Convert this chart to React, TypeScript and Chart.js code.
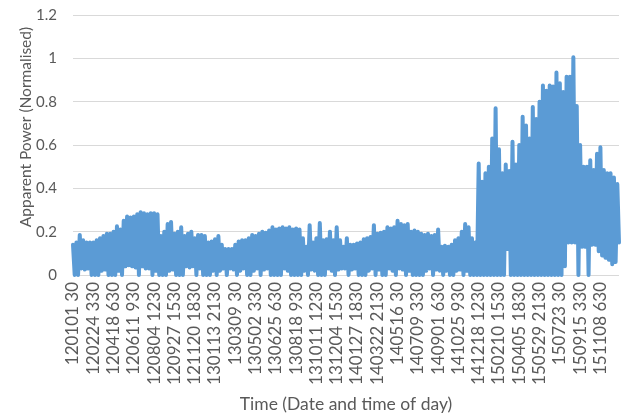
import React, { useEffect, useRef } from "react";
import { Chart, registerables } from "chart.js";

Chart.register(...registerables);

// Normalised apparent power, one daily high and one daily low reading per step.
const dailyPeaks = [
  0.14, 0.15, 0.185, 0.16, 0.15, 0.15, 0.15, 0.16, 0.17, 0.18,
  0.19, 0.19, 0.2, 0.225, 0.21, 0.25, 0.27, 0.265, 0.27, 0.28,
  0.29, 0.285, 0.28, 0.285, 0.285, 0.28, 0.18, 0.2, 0.235, 0.245,
  0.19, 0.2, 0.22, 0.18, 0.19, 0.2, 0.17, 0.185, 0.185, 0.18,
  0.15, 0.155, 0.165, 0.18, 0.14, 0.12, 0.12, 0.12, 0.14, 0.155,
  0.16, 0.16, 0.17, 0.185, 0.18, 0.19, 0.2, 0.195, 0.205, 0.22,
  0.21, 0.215, 0.22, 0.215, 0.22, 0.21, 0.215, 0.21, 0.17, 0.13,
  0.23, 0.15, 0.17, 0.24, 0.16, 0.165, 0.2, 0.16, 0.22, 0.16,
  0.13, 0.17, 0.14, 0.14, 0.145, 0.15, 0.165, 0.17, 0.175, 0.23,
  0.19, 0.195, 0.2, 0.22, 0.215, 0.22, 0.25, 0.235, 0.23, 0.235,
  0.2, 0.205, 0.2, 0.19, 0.185, 0.19, 0.18, 0.185, 0.21, 0.13,
  0.135, 0.13, 0.14, 0.16, 0.17, 0.2, 0.235, 0.22, 0.17, 0.15,
  0.515, 0.43, 0.47, 0.5, 0.63, 0.77, 0.58, 0.47, 0.51, 0.48,
  0.615, 0.51, 0.6, 0.73, 0.69, 0.63, 0.775, 0.72, 0.8, 0.875,
  0.85, 0.875, 0.87, 0.935, 0.885, 0.845, 0.915, 0.915, 1.005, 0.78,
  0.6, 0.5, 0.5, 0.53, 0.485, 0.56, 0.59, 0.485, 0.47, 0.47,
  0.45, 0.42,
];

const dailyTroughs = [
  0, 0, 0.03, 0.025, 0.03, 0, 0, 0, 0.02, 0.025,
  0, 0, 0, 0.02, 0, 0.04, 0.045, 0.04, 0.035, 0,
  0.04, 0.03, 0.03, 0, 0.02, 0, 0, 0, 0.02, 0.025,
  0, 0, 0, 0.04, 0.035, 0.04, 0, 0.03, 0, 0,
  0, 0.02, 0, 0.02, 0.03, 0, 0.03, 0.025, 0, 0.02,
  0.03, 0, 0, 0.02, 0.03, 0, 0.025, 0.03, 0, 0,
  0, 0, 0.03, 0.02, 0, 0, 0, 0, 0.02, 0,
  0.025, 0.02, 0, 0, 0, 0.03, 0.02, 0, 0.025, 0.03,
  0.03, 0, 0.025, 0.03, 0, 0, 0, 0.02, 0.03, 0,
  0.025, 0, 0, 0.03, 0.02, 0, 0.03, 0.025, 0, 0.02,
  0, 0, 0, 0, 0.02, 0.03, 0, 0.025, 0.02, 0,
  0.02, 0, 0, 0.02, 0.025, 0, 0.02, 0, 0, 0,
  0, 0, 0, 0, 0, 0, 0, 0, 0.12, 0,
  0, 0, 0, 0, 0, 0, 0, 0, 0, 0,
  0, 0, 0, 0, 0, 0.04, 0.15, 0.15, 0.15, 0,
  0.13, 0.13, 0, 0.14, 0.14, 0.11, 0.09, 0.08, 0.07, 0.05,
  0.06, 0.15,
];

// Date (yymmdd) and time of day shown along the time axis.
const timeLabels = [
  "120101 30", "120224 330", "120418 630", "120611 930", "120804 1230",
  "120927 1530", "121120 1830", "130113 2130", "130309 30", "130502 330",
  "130625 630", "130818 930", "131011 1230", "131204 1530", "140127 1830",
  "140322 2130", "140516 30", "140709 330", "140901 630", "141025 930",
  "141218 1230", "150210 1530", "150405 1830", "150529 2130", "150723 30",
  "150915 330", "151108 630",
];

const readingsPerLabel = 12;
const axisTicks = [0, 0.2, 0.4, 0.6, 0.8, 1, 1.2];

const FONT = "Lato, 'Open Sans', sans-serif";
const TEXT = "#595959";

export default function App() {
  const canvasRef = useRef<HTMLCanvasElement | null>(null);

  useEffect(() => {
    const canvas = canvasRef.current;
    if (!canvas) return;

    const points: { x: number; y: number }[] = [];
    dailyPeaks.forEach((peak, i) => {
      points.push({ x: 2 * i, y: peak });
      points.push({ x: 2 * i + 1, y: dailyTroughs[i] });
    });
    const lastIndex = points.length - 1;

    const chart = new Chart(canvas, {
      type: "line",
      data: {
        datasets: [
          {
            data: points,
            borderColor: "#5B9BD5",
            borderWidth: 4,
            borderJoinStyle: "round",
            borderCapStyle: "round",
            pointRadius: 0,
            tension: 0,
            fill: false,
            clip: false,
          },
        ],
      },
      options: {
        responsive: false,
        animation: false,
        events: [],
        layout: { padding: { left: 0, right: 9, top: 15, bottom: 4 } },
        plugins: {
          legend: { display: false },
          tooltip: { enabled: false },
        },
        scales: {
          x: {
            type: "linear",
            min: 0,
            max: lastIndex,
            afterBuildTicks: (axis: any) => {
              axis.ticks = timeLabels.map((_, i) => ({ value: i * readingsPerLabel }));
            },
            afterFit: (scale: any) => {
              scale.height = 140;
              scale.paddingLeft = 0;
              scale.paddingRight = 0;
            },
            grid: { display: false, drawTicks: false },
            border: { display: false },
            ticks: {
              autoSkip: false,
              maxRotation: 90,
              minRotation: 90,
              padding: 7,
              color: TEXT,
              font: { family: FONT, size: 17 },
              callback: (v: any) => timeLabels[Math.round(Number(v) / readingsPerLabel)] ?? "",
            },
            title: {
              display: true,
              text: "Time (Date and time of day)",
              color: TEXT,
              font: { family: FONT, size: 17.5 },
              padding: { top: 9, bottom: 0 },
            },
          },
          y: {
            min: 0,
            max: 1.2,
            afterBuildTicks: (axis: any) => {
              axis.ticks = axisTicks.map((value) => ({ value }));
            },
            afterFit: (scale: any) => {
              scale.width = 73;
              scale.paddingTop = 0;
              scale.paddingBottom = 0;
            },
            grid: { color: "#d9d9d9", lineWidth: 1, drawTicks: false },
            border: { display: false },
            ticks: {
              padding: 16,
              color: TEXT,
              font: { family: FONT, size: 15 },
              callback: (v: any) => String(Number(Number(v).toFixed(1))),
            },
            title: {
              display: true,
              align: "end",
              text: "Apparent Power (Normalised)   ",
              color: TEXT,
              font: { family: FONT, size: 15.5 },
              padding: { top: 17, bottom: 0 },
            },
          },
        },
      },
    });

    return () => chart.destroy();
  }, []);

  return (
    <div style={{ position: "absolute", left: 0, top: 0, width: 628, height: 419, background: "#fff" }}>
      <canvas ref={canvasRef} width={628} height={419} style={{ display: "block" }} />
    </div>
  );
}
